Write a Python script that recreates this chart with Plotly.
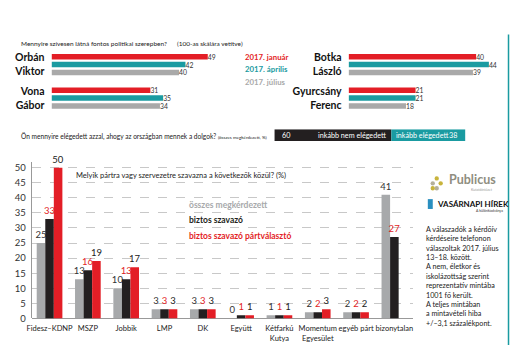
import plotly.graph_objects as go

W, H = 510, 350
def X(px): return px / W
def Y(py): return 1 - py / H

FONT = "Lato, Roboto, sans-serif"
RED, TEAL, GRAY, BLACK = "#e31e26", "#1a9ba1", "#a7a9ab", "#231f20"

# ---- data ----
waves = ["2017. január", "2017. április", "2017. július"]
cand_left = ["Orbán Viktor", "Vona Gábor"]
left_jan = [49, 31]
left_apr = [42, 35]
left_jul = [40, 34]
cand_right = ["Botka László", "Gyurcsány Ferenc"]
right_jan = [40, 21]
right_apr = [44, 21]
right_jul = [39, 18]

sat_labels = ["inkább nem elégedett", "inkább elégedett"]
sat_no = 60
sat_yes = 38

parties = ["Fidesz–KDNP", "MSZP", "Jobbik", "LMP", "DK", "Együtt",
           "Kétfarkú<br>Kutya", "Momentum<br>Egyesület", "egyéb párt", "bizonytalan"]
series_names = ["összes megkérdezett", "biztos szavazó", "biztos szavazó pártválasztó"]
all_resp = [25, 13, 10, 3, 3, 0, 1, 2, 2, 41]
sure_voters = [33, 16, 13, 3, 3, 1, 1, 2, 2, 27]
sure_party = [50, 19, 17, 3, 3, 1, 1, 3, 2, None]

y_ticks = list(range(0, 51, 5))

fig = go.Figure()

def txt(vals):
    return ["" if v is None else str(v) for v in vals]

# ---- top candidate bars ----
wave_cols = [RED, TEAL, "#a9a9a9"]
thick = 0.162
offs = [-0.316, -0.081, 0.154]
for side, (cands, sets) in enumerate([(cand_left, [left_jan, left_apr, left_jul]),
                                       (cand_right, [right_jan, right_apr, right_jul])]):
    ax = str(side + 2)
    labels = [c.replace(" ", "<br>") for c in cands]
    for i, vals in enumerate(sets):
        fig.add_trace(go.Bar(
            x=vals, y=labels, orientation="h", name=waves[i],
            marker=dict(color=wave_cols[i], line=dict(width=0)),
            width=thick, offset=offs[i],
            text=txt(vals), textposition="outside", cliponaxis=False, constraintext="none",
            textfont=dict(size=6.8, color="#333", family=FONT),
            xaxis="x" + ax, yaxis="y" + ax, showlegend=False))

# ---- satisfaction stacked bar ----
fig.add_trace(go.Bar(x=[sat_no], y=["s"], orientation="h", base=[0],
                     marker=dict(color=BLACK, line=dict(width=0)), width=1, offset=-0.5,
                     xaxis="x4", yaxis="y4", showlegend=False))
fig.add_trace(go.Bar(x=[sat_yes], y=["s"], orientation="h", base=[sat_no],
                     marker=dict(color=TEAL, line=dict(width=0)), width=1, offset=-0.5,
                     xaxis="x4", yaxis="y4", showlegend=False))

# ---- main grouped bar ----
main_cols = [GRAY, BLACK, RED]
text_cols = ["#333", RED, "#222"]
for i, vals in enumerate([all_resp, sure_voters, sure_party]):
    fig.add_trace(go.Bar(
        x=parties, y=vals, name=series_names[i],
        marker=dict(color=main_cols[i], line=dict(width=0)),
        text=txt(vals), textposition="outside", cliponaxis=False, constraintext="none",
        textfont=dict(size=9.5, color=text_cols[i], family=FONT),
        xaxis="x", yaxis="y", showlegend=False))

top_y_dom = [Y(116.5), Y(48.5)]
layout = dict(
    width=W, height=H, margin=dict(l=0, r=0, t=0, b=0),
    paper_bgcolor="white", plot_bgcolor="rgba(0,0,0,0)",
    font=dict(family=FONT, color="#222"),
    barmode="group", bargap=0.33, bargroupgap=0,
    xaxis=dict(domain=[X(27), X(412)], range=[-0.465, 9.485], showgrid=False,
               ticks="", tickangle=0, tickfont=dict(size=7.5, color="#222"), showline=False,
               ticklabelstandoff=4),
    yaxis=dict(domain=[Y(323), Y(164)], range=[0, 52], tickvals=y_ticks,
               showgrid=True, gridcolor="#c8c8c8", griddash="dash", gridwidth=0.7,
               zeroline=True, zerolinecolor="#999", zerolinewidth=1,
               showline=True, linecolor="#999", linewidth=1, ticks="",
               tickfont=dict(size=9.5, color="#333"), ticklabelstandoff=3),
    xaxis2=dict(domain=[X(47), X(208)], range=[0, 50], visible=False),
    yaxis2=dict(domain=top_y_dom, range=[1.5, -0.5], anchor="x2", showgrid=False,
                ticks="", showline=False, zeroline=False, ticklabelstandoff=6,
                tickfont=dict(size=10.5, color="#111", weight="bold")),
    xaxis3=dict(domain=[X(347), X(508)], range=[0, 50], visible=False),
    yaxis3=dict(domain=top_y_dom, range=[1.5, -0.5], anchor="x3", showgrid=False,
                ticks="", showline=False, zeroline=False, ticklabelstandoff=6,
                tickfont=dict(size=10.5, color="#111", weight="bold")),
    xaxis4=dict(domain=[X(272), X(465)], range=[0, sat_no + sat_yes], visible=False),
    yaxis4=dict(domain=[Y(143), Y(131)], range=[-0.5, 0.5], anchor="x4", visible=False),
)
fig.update_layout(**layout)

ann = []
def pa(x, y, text, size, color="#222", xanchor="left", bold=False, **kw):
    ann.append(dict(x=X(x), y=Y(y), xref="paper", yref="paper", text=text,
                    showarrow=False, xanchor=xanchor, yanchor="middle",
                    font=dict(size=size, color=color, family=FONT,
                              weight="bold" if bold else "normal"), **kw))

pa(14, 44, "Mennyire szívesen látná fontos politikai szerepben?", 6.5)
pa(172, 44, "(100-as skálára vetítve)", 6.5)
for i, c in enumerate(wave_cols):
    pa(240, 58 + i * 12.5, waves[i], 7.8, color=c, bold=True)

pa(14, 138, "Ön mennyire elégedett azzal, ahogy az országban mennek a dolgok? "
            "<span style='font-size:4.5px'>(összes megkérdezett, %)</span>", 6.6)

# satisfaction texts
for x, xs, xa, t in [(0, 6, "left", str(sat_no)), (sat_no, -3, "right", sat_labels[0]),
                     (sat_no, 3, "left", sat_labels[1]), (sat_no + sat_yes, -6, "right", str(sat_yes))]:
    ann.append(dict(x=x, y=0, xref="x4", yref="y4", text=t, showarrow=False,
                    xanchor=xa, xshift=xs, font=dict(size=7.2, color="white", family=FONT)))

pa(70, 178, "Melyik pártra vagy szervezetre szavazna a következők közül? (%)", 7.5)
for i, c in enumerate([GRAY, BLACK, RED]):
    pa(184, [208, 223, 239][i], series_names[i], 8.5, color=c, bold=True)

# right info panel
pa(446, 182, "Publicus", 12.5, color="#8f8e80", bold=True)
pa(495, 193, "Kutatóintézet", 3.5, color="#999", xanchor="right")
pa(434, 207, "VASÁRNAPI HÍREK", 8, color="#111", bold=True)
pa(505, 214, "A különkiadványa", 3.5, color="#333", xanchor="right")
info = ("A válaszadók a kérdőív<br>kérdéseire telefonon<br>válaszoltak 2017. július<br>"
        "13–18. között.<br>A nem, életkor és<br>iskolázottság szerint<br>"
        "reprezentatív mintába<br>1001 fő került.<br>A teljes mintában<br>"
        "a mintavételi hiba<br>+/–3,1 százalékpont.")
ann.append(dict(x=X(423), y=Y(226), xref="paper", yref="paper", text=info, showarrow=False,
                xanchor="left", yanchor="top", align="left",
                font=dict(size=7.2, color="#222", family=FONT)))
fig.update_layout(annotations=ann)

shapes = [
    dict(type="line", xref="paper", yref="paper", x0=X(508.5), x1=X(508.5), y0=Y(35), y1=Y(350),
         line=dict(color=TEAL, width=1.5)),
    dict(type="rect", xref="paper", yref="paper", x0=X(427), x1=X(432), y0=Y(212), y1=Y(202),
         fillcolor="#2a8fc0", line=dict(width=0)),
]
for (cx, cy, col) in [(436, 181, "#c8b43c"), (432, 186, "#b5b09a"), (440, 186, "#c8b43c"),
                      (436, 191, "#b5b09a"), (432, 191, "#c8b43c")]:
    shapes.append(dict(type="circle", xref="paper", yref="paper", x0=X(cx - 2.2), x1=X(cx + 2.2),
                       y0=Y(cy + 2.2), y1=Y(cy - 2.2), fillcolor=col, line=dict(width=0)))
fig.update_layout(shapes=shapes)

fig.write_html("out.html")
